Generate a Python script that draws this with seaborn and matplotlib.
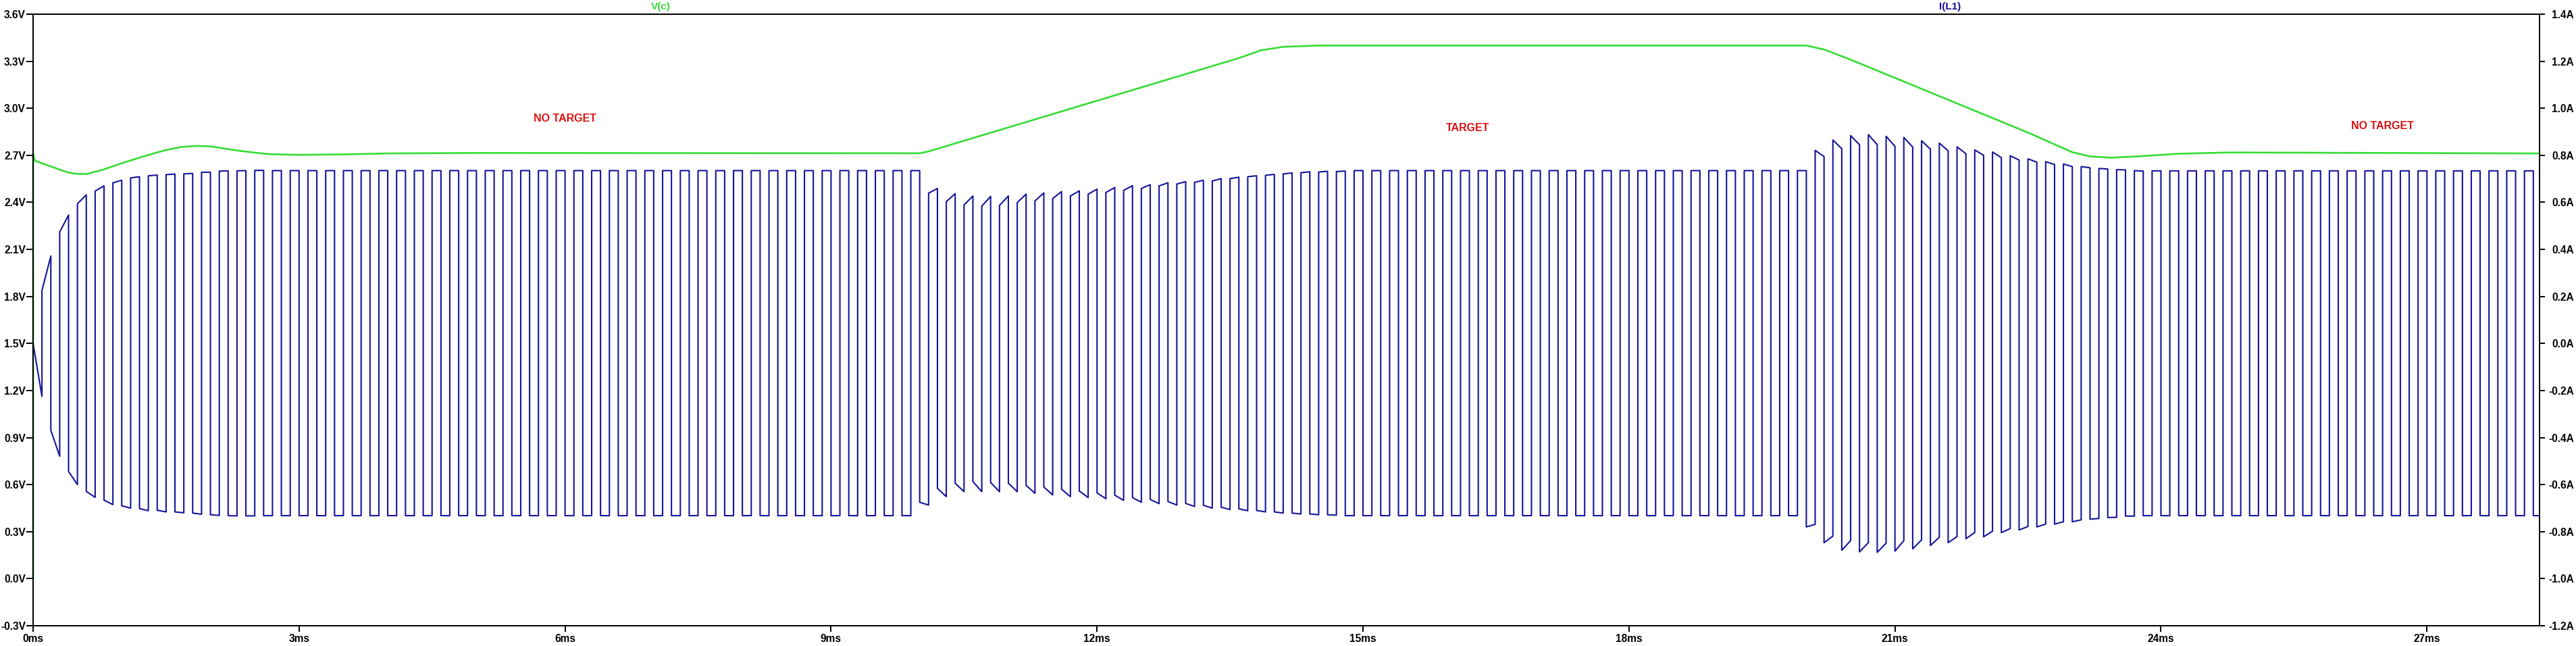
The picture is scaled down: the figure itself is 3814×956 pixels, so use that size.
import numpy as np
import pandas as pd
import seaborn as sns
import matplotlib.pyplot as plt

# V(c) trace: (time in ms, volts)
vc_t = [0.0, 0.0, 0.02, 0.21, 0.39, 0.50, 0.60, 0.77, 1.02, 1.28, 1.50, 1.68, 1.85, 2.0,
        2.17, 2.30, 2.50, 2.67, 3.0, 3.5, 4.0, 5.0, 10.0, 10.1, 13.6, 13.85, 14.1, 14.5,
        20.0, 20.2, 20.5, 22.5, 22.8, 23.0, 23.2, 23.43, 23.7, 24.2, 24.76, 28.27]
vc_v = [0.0, 2.714, 2.665, 2.627, 2.591, 2.581, 2.581, 2.605, 2.653, 2.699, 2.734, 2.754, 2.760, 2.757,
        2.742, 2.731, 2.717, 2.707, 2.703, 2.706, 2.712, 2.715, 2.713, 2.725, 3.32, 3.37, 3.392, 3.40,
        3.40, 3.375, 3.31, 2.845, 2.77, 2.72, 2.693, 2.685, 2.692, 2.71, 2.718, 2.712]

# I(L1): one entry per switching cycle (0.2 ms), low half first then high half
# start / end value of each half-cycle in amps
lo_start = ([0.0, -0.369, -0.544, -0.629, -0.666, -0.690, -0.702, -0.709, -0.716, -0.721, -0.728, -0.732, -0.733]
            + [-0.732] * 37
            + [-0.675, -0.616, -0.594, -0.587, -0.591, -0.594, -0.603, -0.610, -0.620, -0.627, -0.635, -0.645,
               -0.655, -0.663, -0.672, -0.680, -0.688, -0.696, -0.703, -0.710, -0.716, -0.721, -0.725, -0.728]
            + [-0.732] * 26
            + [-0.780, -0.847, -0.879, -0.886, -0.888, -0.883, -0.873, -0.859, -0.847, -0.830, -0.822, -0.804,
               -0.793, -0.780, -0.768, -0.758, -0.747, -0.740, -0.734]
            + [-0.732] * 23)
lo_end = ([-0.225, -0.479, -0.600, -0.654, -0.685, -0.700, -0.711, -0.716, -0.720, -0.726, -0.731, -0.733, -0.733]
          + [-0.732] * 37
          + [-0.687, -0.651, -0.630, -0.630, -0.630, -0.630, -0.637, -0.644, -0.651, -0.655, -0.660, -0.667,
             -0.675, -0.681, -0.687, -0.693, -0.700, -0.706, -0.711, -0.716, -0.721, -0.725, -0.728, -0.730]
          + [-0.732] * 26
          + [-0.769, -0.819, -0.838, -0.847, -0.849, -0.838, -0.835, -0.824, -0.821, -0.804, -0.798, -0.787,
             -0.778, -0.768, -0.758, -0.750, -0.744, -0.739, -0.734]
          + [-0.732] * 23)
hi_start = ([0.225, 0.474, 0.594, 0.648, 0.683, 0.704, 0.713, 0.718, 0.721, 0.728, 0.733, 0.734, 0.736]
            + [0.735] * 37
            + [0.639, 0.603, 0.589, 0.584, 0.587, 0.599, 0.606, 0.616, 0.627, 0.635, 0.642, 0.651,
               0.659, 0.670, 0.678, 0.685, 0.691, 0.701, 0.709, 0.715, 0.721, 0.726, 0.729, 0.731]
            + [0.735] * 26
            + [0.821, 0.865, 0.884, 0.888, 0.881, 0.876, 0.862, 0.852, 0.836, 0.823, 0.814, 0.798,
               0.785, 0.773, 0.763, 0.752, 0.744, 0.739, 0.735]
            + [0.734] * 23)
hi_end = ([0.372, 0.546, 0.632, 0.670, 0.694, 0.709, 0.716, 0.720, 0.723, 0.728, 0.734, 0.735, 0.736]
          + [0.735] * 37
          + [0.659, 0.637, 0.627, 0.625, 0.627, 0.635, 0.640, 0.646, 0.649, 0.656, 0.663, 0.671,
             0.675, 0.683, 0.688, 0.694, 0.701, 0.707, 0.713, 0.719, 0.725, 0.730, 0.732, 0.733]
          + [0.735] * 26
          + [0.795, 0.828, 0.845, 0.845, 0.838, 0.835, 0.826, 0.819, 0.807, 0.800, 0.790, 0.780,
             0.771, 0.761, 0.752, 0.747, 0.742, 0.738, 0.733]
          + [0.734] * 23)

period = 0.2
t_end = 28.27

v_ticks = [-0.3, 0.0, 0.3, 0.6, 0.9, 1.2, 1.5, 1.8, 2.1, 2.4, 2.7, 3.0, 3.3, 3.6]
a_ticks = [-1.2, -1.0, -0.8, -0.6, -0.4, -0.2, 0.0, 0.2, 0.4, 0.6, 0.8, 1.0, 1.2, 1.4]
t_ticks = [0, 3, 6, 9, 12, 15, 18, 21, 24, 27]

GREEN = '#35dc35'
NAVY = '#14149a'
RED = '#dd1010'

# build the square wave point list cycle by cycle
rows = []
for k in range(len(lo_start)):
    t0 = k * period
    rows += [(t0, lo_start[k]), (t0 + period / 2, lo_end[k]),
             (t0 + period / 2, hi_start[k]), (t0 + period, hi_end[k])]
il = pd.DataFrame(rows, columns=['t', 'i'])
vc = pd.DataFrame({'t': vc_t, 'v': vc_v})

sns.set_style('ticks')
plt.rcParams['font.family'] = ['Liberation Sans', 'DejaVu Sans']
plt.rcParams['font.weight'] = 'bold'

W, H = 3814, 956
PX = 0.72  # points per pixel at dpi 100
fig = plt.figure(figsize=(W / 100, H / 100), dpi=100)
ax = fig.add_axes([49 / W, 30 / H, (3760 - 49) / W, (926 - 21) / H])

sns.lineplot(data=vc, x='t', y='v', ax=ax, sort=False, estimator=None, color=GREEN, lw=1.9)
for ln in ax.lines:
    ln.set_clip_on(False)
    ln.set_zorder(5)

ax2 = ax.twinx()
sns.lineplot(data=il, x='t', y='i', ax=ax2, sort=False, estimator=None, color=NAVY, lw=1.5)

ax.set_xlim(0, t_end)
ax.set_ylim(-0.3, 3.6)
ax2.set_ylim(-1.2, 1.4)

ax.set_xticks(t_ticks)
ax.set_xticklabels([f'{t}ms' for t in t_ticks])
ax.set_yticks(v_ticks)
ax.set_yticklabels([f'{v:.1f}V' for v in v_ticks])
ax2.set_yticks(a_ticks)
ax2.set_yticklabels([f'{a:.1f}A' for a in a_ticks])

for a in (ax, ax2):
    a.set_xlabel('')
    a.set_ylabel('')
    for s in a.spines.values():
        s.set_visible(True)
        s.set_color('black')
        s.set_linewidth(2 * PX)

ax.tick_params(axis='y', direction='out', length=10 * PX, width=2 * PX, pad=1 * PX,
               labelsize=11.2, colors='black')
ax.tick_params(axis='x', direction='out', length=9 * PX, width=2 * PX, pad=3 * PX,
               labelsize=11.2, colors='black')
# right-hand labels are right aligned against the image edge
ax2.tick_params(axis='y', direction='out', length=8 * PX, width=2 * PX, pad=43 * PX,
                labelsize=11.2, colors='black')
for lab in ax2.get_yticklabels():
    lab.set_horizontalalignment('right')

# trace names above the frame
fig.text(978 / W, 1 - 10 / H, 'V(c)', color=GREEN, fontsize=11, ha='center', va='center')
fig.text(2887 / W, 1 - 10 / H, 'I(L1)', color=NAVY, fontsize=11, ha='center', va='center')

# region notes
ax.text(6.0, 2.936, 'NO TARGET', color=RED, fontsize=11.5, ha='center', va='center')
ax.text(16.18, 2.872, 'TARGET', color=RED, fontsize=11.5, ha='center', va='center')
ax.text(26.5, 2.885, 'NO TARGET', color=RED, fontsize=11.5, ha='center', va='center')

fig.savefig('out.png', dpi=100, facecolor='white')
